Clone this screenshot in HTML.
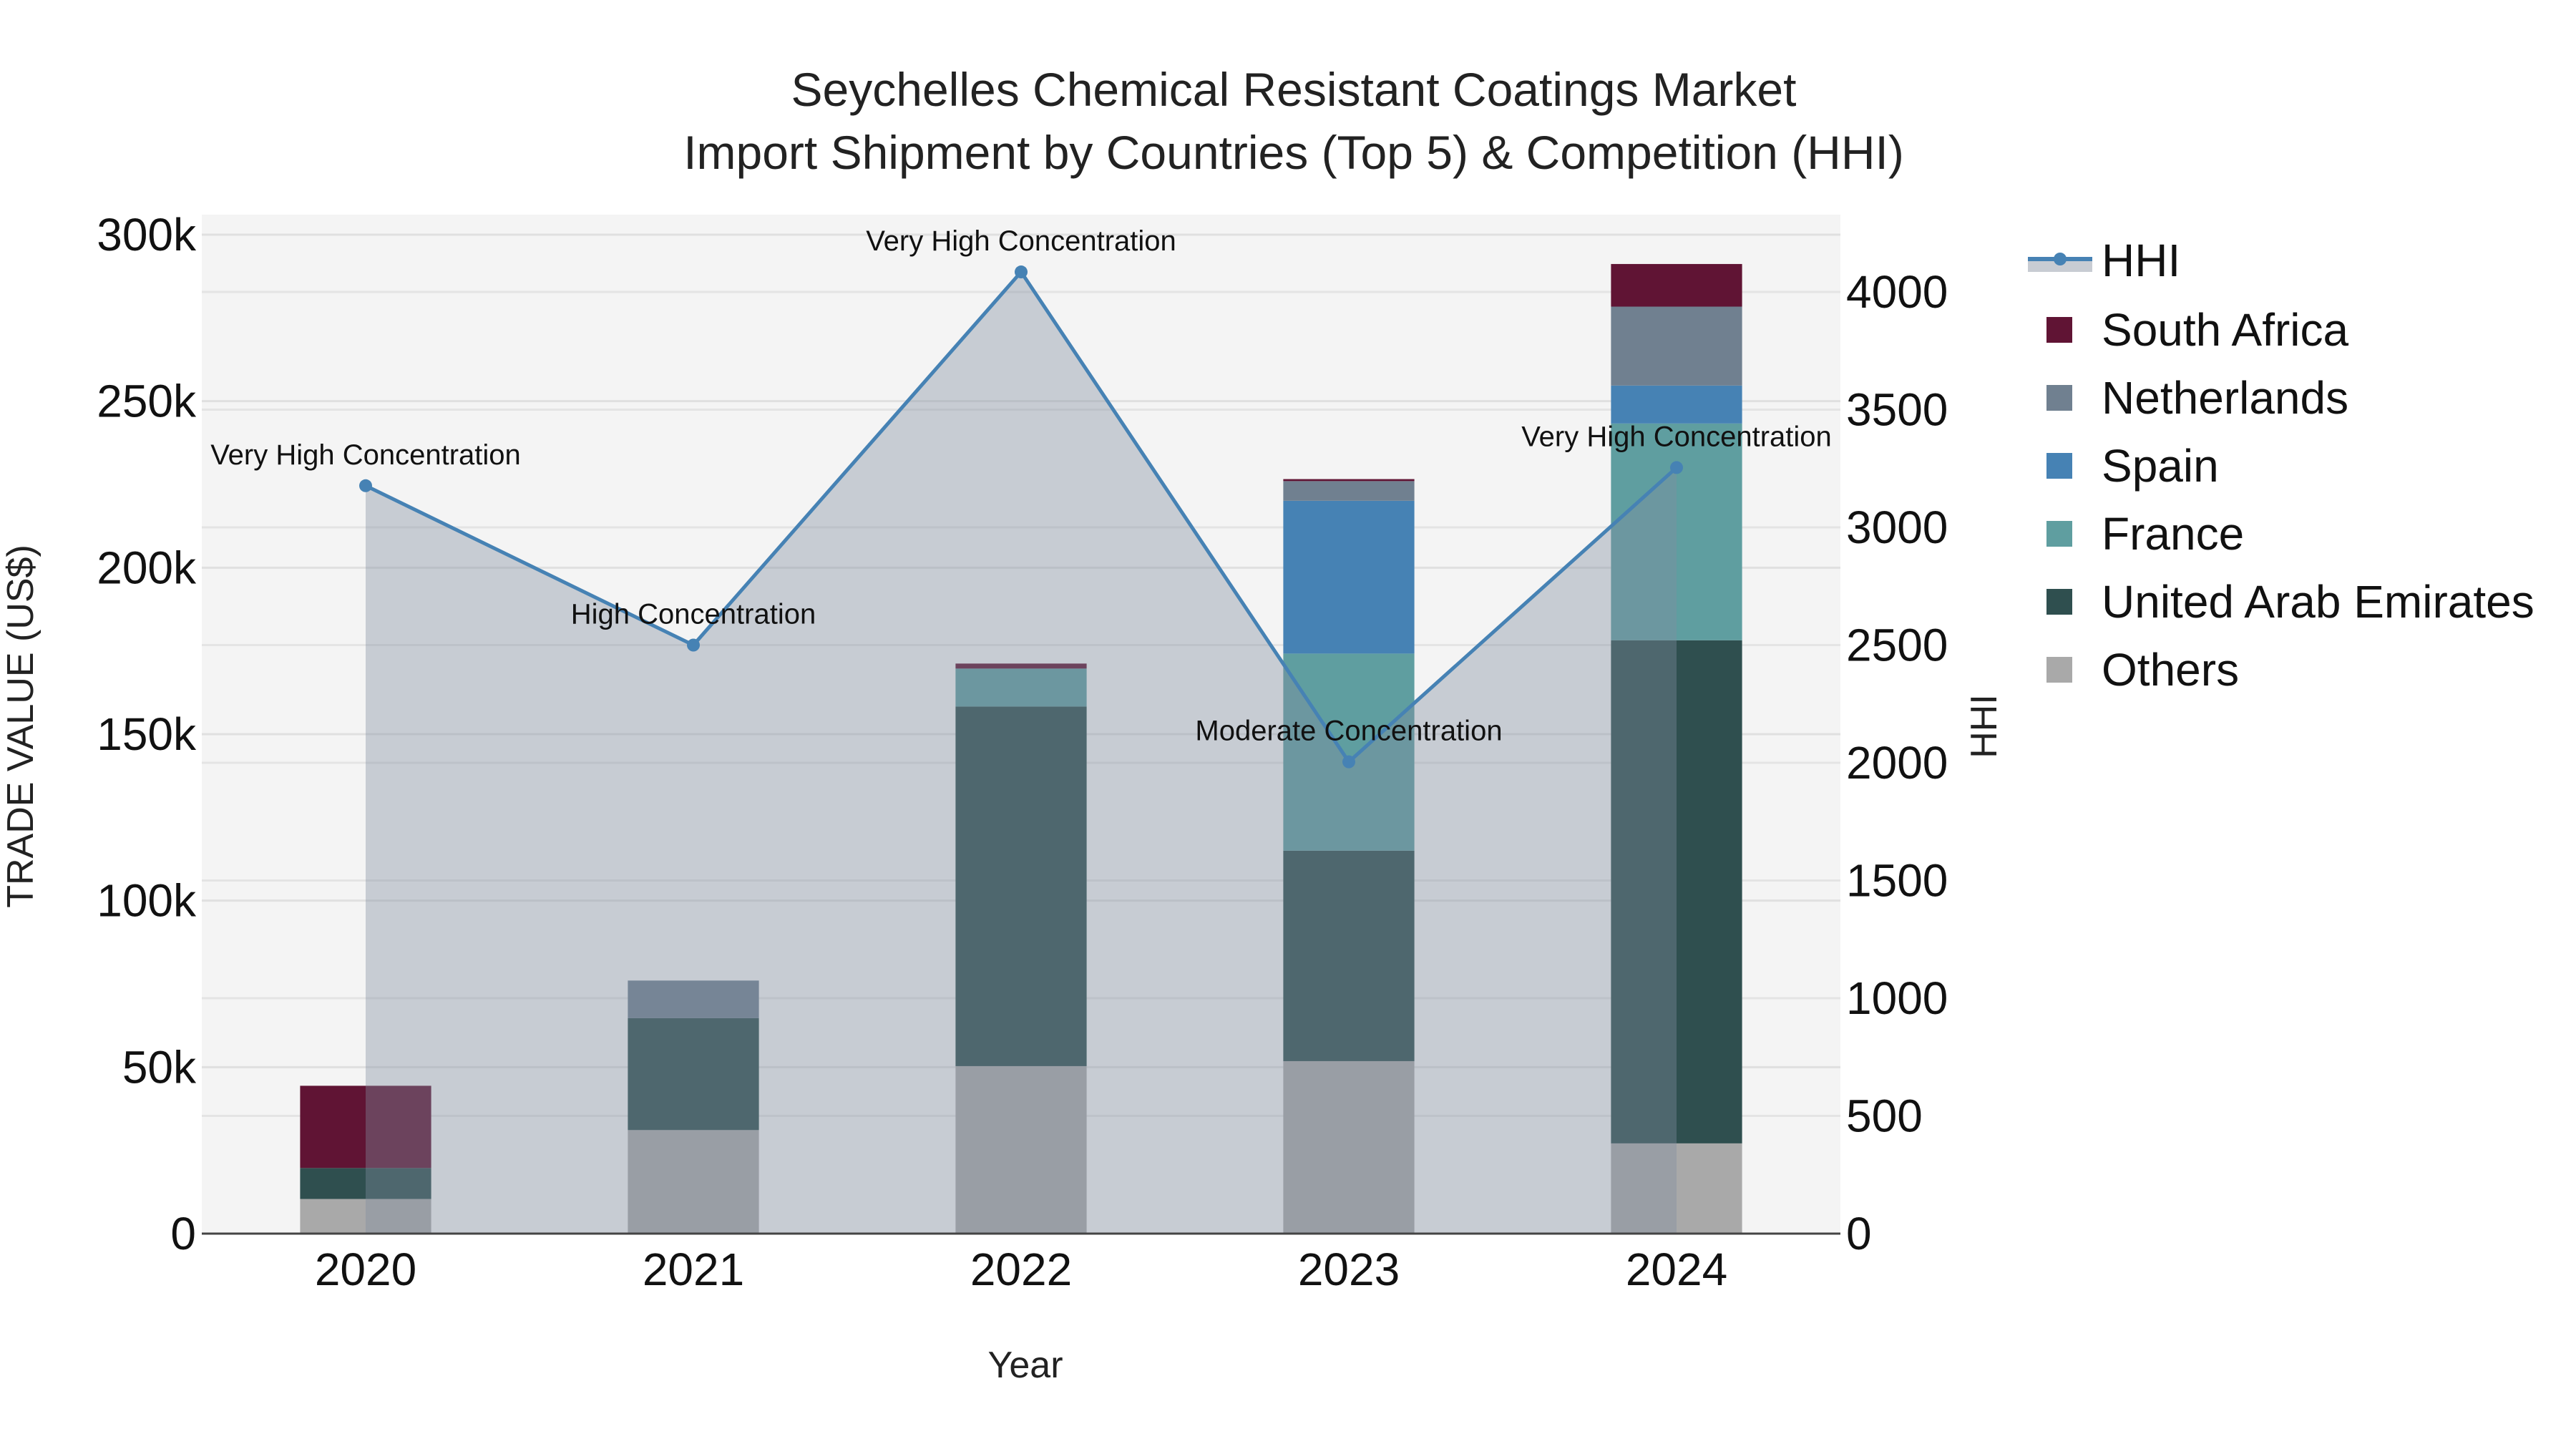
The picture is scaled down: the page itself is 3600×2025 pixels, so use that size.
<!DOCTYPE html>
<html><head><meta charset="utf-8"><style>
body{margin:0;background:#fff}
svg{display:block;font-family:"Liberation Sans",Arial,sans-serif}
</style></head><body>
<svg id="chart" width="3600" height="2025" viewBox="0 0 3600 2025" xmlns="http://www.w3.org/2000/svg"></svg>
<script>
const years = ['2020','2021','2022','2023','2024'];
const seriesNames = ['Others','United Arab Emirates','France','Spain','Netherlands','South Africa'];
const others = [10400, 31100, 50300, 51800, 27100];
const uae = [9300, 33600, 108000, 63200, 151100];
const france = [0, 0, 11400, 59200, 65100];
const spain = [0, 0, 0, 45900, 11400];
const netherlands = [0, 11300, 0, 5900, 23700];
const southAfrica = [24700, 0, 1500, 600, 12800];
const hhi = [3177, 2500, 4085, 2004, 3254];
const hhiLabels = ['Very High Concentration','High Concentration','Very High Concentration','Moderate Concentration','Very High Concentration'];
const yTicks = [0, 50000, 100000, 150000, 200000, 250000, 300000];
const yTickLabels = ['0','50k','100k','150k','200k','250k','300k'];
const y2Ticks = [0,500,1000,1500,2000,2500,3000,3500,4000];

const colors = ['#a9a9a9','#2f4f4f','#5f9ea0','#4682b4','#708090','#601434'];
const seriesData = [others, uae, france, spain, netherlands, southAfrica];
const L=282, R=2572, T=300, B=1724;
const x = i => L + (i+0.5)*(R-L)/years.length;
const bw = 0.4*(R-L)/years.length;
const y = v => B - v*(B-328)/300000;
const y2 = v => B - v*(B-408)/4000;
const NS='http://www.w3.org/2000/svg';
const svg=document.getElementById('chart');
function mk(tag, attrs, parent){const e=document.createElementNS(NS,tag);for(const k in attrs)e.setAttribute(k,attrs[k]);(parent||svg).appendChild(e);return e;}

const bg = mk('rect',{x:L,y:T,width:R-L,height:B-T,fill:'#f4f4f4'});


for(let i=0;i<yTicks.length;i++){
  const g=mk('line',{x1:L,x2:R,y1:y(yTicks[i]),y2:y(yTicks[i]),stroke:'#e0e0e0','stroke-width':3});
  
  
  const t=mk('text',{x:L-8,y:y(yTicks[i])+22,'text-anchor':'end','font-size':64,fill:'#111'});
  t.textContent=yTickLabels[i];
  
  
}
for(let i=0;i<y2Ticks.length;i++){
  const g=mk('line',{x1:L,x2:R,y1:y2(y2Ticks[i]),y2:y2(y2Ticks[i]),stroke:'#e4e4e4','stroke-width':3});
  
  
  const t=mk('text',{x:R+8,y:y2(y2Ticks[i])+22,'font-size':64,fill:'#111'});
  t.textContent=String(y2Ticks[i]);
  
  
}
for(let i=0;i<years.length;i++){
  let base=0;
  for(let s=0;s<seriesData.length;s++){
    const v=seriesData[s][i];
    if(v>0){
      const r=mk('rect',{x:x(i)-bw/2,y:y(base+v),width:bw,height:y(base)-y(base+v),fill:colors[s]});
      
      
    }
    base+=v;
  }
  const t=mk('text',{x:x(i),y:B+72,'text-anchor':'middle','font-size':64,fill:'#111'});
  t.textContent=years[i];
  
  
}
let d='M'+x(0)+','+B;
for(let i=0;i<hhi.length;i++) d+=' L'+x(i)+','+y2(hhi[i]);
d+=' L'+x(hhi.length-1)+','+B+' Z';
const area=mk('path',{d:d,fill:'rgba(130,141,159,0.39)'});


const axis=mk('line',{x1:L,x2:R,y1:B,y2:B,stroke:'#444','stroke-width':3});


let ld='';
for(let i=0;i<hhi.length;i++) ld+=(i?' L':'M')+x(i)+','+y2(hhi[i]);
const line=mk('path',{d:ld,fill:'none',stroke:'#4682b4','stroke-width':5});


for(let i=0;i<hhi.length;i++){
  const c=mk('circle',{cx:x(i),cy:y2(hhi[i]),r:9,fill:'#4682b4'});
  
  
  const t=mk('text',{x:x(i),y:y2(hhi[i])-30,'text-anchor':'middle','font-size':40,fill:'#111'});
  t.textContent=hhiLabels[i];
  
  
}
</script>
<svg style="position:absolute;left:0;top:0" width="3600" height="2025">
<text x="1808" y="148" text-anchor="middle" font-size="66" fill="#222" font-family="Liberation Sans, sans-serif">Seychelles Chemical Resistant Coatings Market</text>
<text x="1808" y="236" text-anchor="middle" font-size="66" fill="#222" font-family="Liberation Sans, sans-serif">Import Shipment by Countries (Top 5) &amp; Competition (HHI)</text>
<text transform="translate(46,1015) rotate(-90)" text-anchor="middle" font-size="52" fill="#222" font-family="Liberation Sans, sans-serif">TRADE VALUE (US$)</text>
<text transform="translate(2790,1015) rotate(-90)" text-anchor="middle" font-size="52" fill="#222" font-family="Liberation Sans, sans-serif">HHI</text>
<text x="1433" y="1925" text-anchor="middle" font-size="52" fill="#222" font-family="Liberation Sans, sans-serif">Year</text>
<g font-family="Liberation Sans, sans-serif" font-size="64" fill="#111">
<g><rect x="2834" y="362" width="90" height="18" fill="#c8ccd3"/><line x1="2834" x2="2924" y1="362" y2="362" stroke="#4682b4" stroke-width="6"/><circle cx="2879" cy="362" r="9" fill="#4682b4"/><text x="2937" y="386">HHI</text></g>
<g><rect x="2860" y="443" width="36" height="36" fill="#601434"/><text x="2937" y="483">South Africa</text></g>
<g><rect x="2860" y="538" width="36" height="36" fill="#708090"/><text x="2937" y="578">Netherlands</text></g>
<g><rect x="2860" y="633" width="36" height="36" fill="#4682b4"/><text x="2937" y="673">Spain</text></g>
<g><rect x="2860" y="728" width="36" height="36" fill="#5f9ea0"/><text x="2937" y="768">France</text></g>
<g><rect x="2860" y="823" width="36" height="36" fill="#2f4f4f"/><text x="2937" y="863">United Arab Emirates</text></g>
<g><rect x="2860" y="918" width="36" height="36" fill="#a9a9a9"/><text x="2937" y="958">Others</text></g>
</g>
</svg>
</body></html>
